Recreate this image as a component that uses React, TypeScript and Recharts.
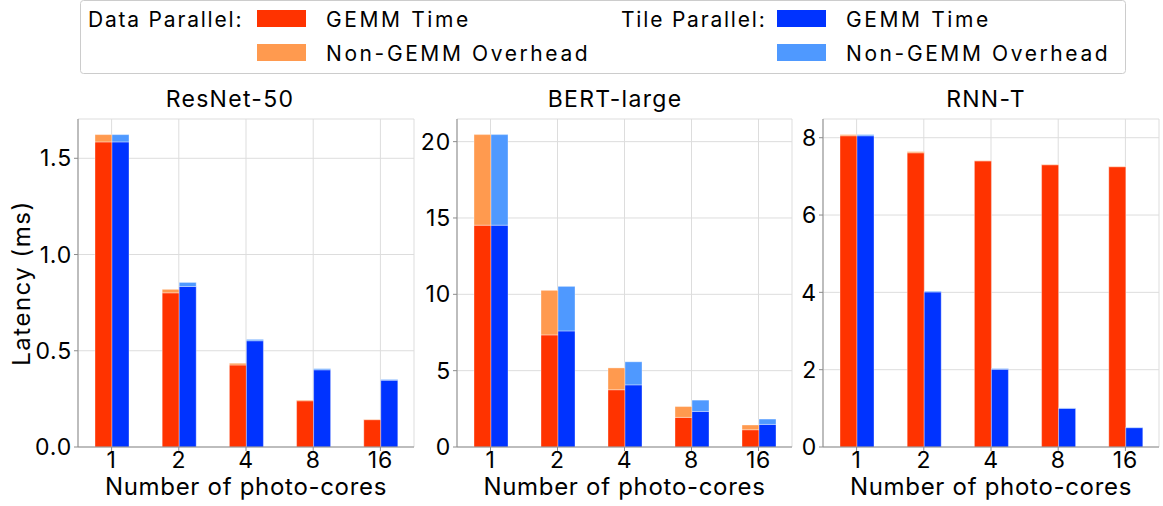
import { BarChart, Bar, XAxis, YAxis, CartesianGrid } from "recharts";

// photo-core counts along the x axis
const cores = ["1", "2", "4", "8", "16"];

// ResNet-50 latency (ms)
const resnetDpGemm = [1.585, 0.801, 0.426, 0.24, 0.142];
const resnetDpOver = [0.038, 0.018, 0.009, 0.004, 0.002];
const resnetTpGemm = [1.585, 0.834, 0.552, 0.401, 0.347];
const resnetTpOver = [0.038, 0.021, 0.007, 0.006, 0.004];
const resnetTicks = [0, 0.5, 1.0, 1.5];

// BERT-large latency (ms)
const bertDpGemm = [14.53, 7.34, 3.75, 1.94, 1.13];
const bertDpOver = [5.93, 2.92, 1.43, 0.71, 0.31];
const bertTpGemm = [14.53, 7.6, 4.07, 2.33, 1.48];
const bertTpOver = [5.93, 2.92, 1.51, 0.74, 0.35];
const bertTicks = [0, 5, 10, 15, 20];

// RNN-T latency (ms)
const rnntDpGemm = [8.05, 7.61, 7.4, 7.3, 7.25];
const rnntDpOver = [0.03, 0.03, 0.01, 0.01, 0.01];
const rnntTpGemm = [8.05, 4.01, 2.01, 1.0, 0.5];
const rnntTpOver = [0.03, 0.02, 0.02, 0.01, 0.01];
const rnntTicks = [0, 2, 4, 6, 8];

const legendLabels = ["GEMM Time", "Non-GEMM Overhead"];

const COLORS = {
  dpGemm: "#ff3300",
  dpOver: "#ff9a4f",
  tpGemm: "#0033ff",
  tpOver: "#4f99ff",
};

const FONT = "Inter, 'Open Sans', sans-serif";
const GRID = "#dddddd";
const SPINE = "#8c8c8c";

type Row = { cores: string; dpGemm: number; dpOver: number; tpGemm: number; tpOver: number };

function buildRows(dpGemm: number[], dpOver: number[], tpGemm: number[], tpOver: number[]): Row[] {
  return cores.map((c, i) => ({
    cores: c,
    dpGemm: dpGemm[i],
    dpOver: dpOver[i],
    tpGemm: tpGemm[i],
    tpOver: tpOver[i],
  }));
}

interface PanelProps {
  rows: Row[];
  ticks: number[];
  decimals: number;
  left: number;
  width: number;
  yWidth: number;
  rightPad: number;
  yLabel?: string;
}

function Panel({ rows, ticks, decimals, left, width, yWidth, rightPad, yLabel }: PanelProps) {
  // matplotlib-style 5% headroom above the tallest stack
  const peak = Math.max(...rows.map((r) => Math.max(r.dpGemm + r.dpOver, r.tpGemm + r.tpOver)));
  const domain: [number, number] = [0, peak * 1.05];
  const tickStyle = { fill: "#000", fontSize: 23, fontFamily: FONT, letterSpacing: 0.8 };
  const barEdge = { stroke: "rgba(255,255,255,0.35)", strokeWidth: 1 };

  return (
    <div style={{ position: "absolute", left, top: 0 }}>
      <BarChart
        width={width}
        height={506}
        data={rows}
        margin={{ top: 119, right: rightPad, bottom: 0, left: 0 }}
        barGap={0}
        barSize={17}
      >
        <CartesianGrid stroke={GRID} />
        <XAxis
          dataKey="cores"
          height={59}
          tickSize={4}
          tickMargin={1}
          stroke={SPINE}
          tick={tickStyle}
          label={{
            value: "Number of photo-cores",
            position: "insideBottom",
            offset: 11,
            style: { fill: "#000", fontSize: 24, fontFamily: FONT, letterSpacing: 0.7 },
          }}
        />
        {/* top and right spines */}
        <XAxis xAxisId="top" orientation="top" dataKey="cores" height={0} tick={false} tickLine={false} stroke={SPINE} />
        <YAxis
          domain={domain}
          ticks={ticks}
          width={yWidth}
          tickSize={4}
          tickMargin={2}
          stroke={SPINE}
          tick={tickStyle}
          tickFormatter={(v: number) => v.toFixed(decimals)}
          label={
            yLabel
              ? {
                  value: yLabel,
                  angle: -90,
                  position: "insideLeft",
                  offset: 21,
                  style: { textAnchor: "middle", fill: "#000", fontSize: 24, fontFamily: FONT, letterSpacing: 1.5 },
                }
              : undefined
          }
        />
        <YAxis yAxisId="right" orientation="right" width={0} domain={domain} tick={false} tickLine={false} stroke={SPINE} />
        <Bar dataKey="dpGemm" stackId="dp" fill={COLORS.dpGemm} {...barEdge} isAnimationActive={false} />
        <Bar dataKey="dpOver" stackId="dp" fill={COLORS.dpOver} {...barEdge} isAnimationActive={false} />
        <Bar dataKey="tpGemm" stackId="tp" fill={COLORS.tpGemm} {...barEdge} isAnimationActive={false} />
        <Bar dataKey="tpOver" stackId="tp" fill={COLORS.tpOver} {...barEdge} isAnimationActive={false} />
      </BarChart>
    </div>
  );
}

function Titles() {
  const titles = [
    { text: "ResNet-50", x: 230 },
    { text: "BERT-large", x: 615 },
    { text: "RNN-T", x: 986 },
  ];
  return (
    <svg width={1163} height={119} style={{ position: "absolute", left: 0, top: 0, pointerEvents: "none" }}>
      {titles.map((t) => (
        <text
          key={t.text}
          x={t.x}
          y={107}
          textAnchor="middle"
          fontSize={23}
          fontFamily={FONT}
          letterSpacing={1.3}
          fill="#000"
        >
          {t.text}
        </text>
      ))}
    </svg>
  );
}

function LegendBox() {
  const groups = [
    { name: "Data Parallel:", x: 88, swatchX: 257, textX: 326, colors: [COLORS.dpGemm, COLORS.dpOver] },
    { name: "Tile Parallel:", x: 621, swatchX: 777, textX: 846, colors: [COLORS.tpGemm, COLORS.tpOver] },
  ];
  const rowsY = [10, 44];
  const textProps = { fontSize: 21, fontFamily: FONT, fill: "#000" };
  return (
    <svg width={1163} height={80} style={{ position: "absolute", left: 0, top: 0 }}>
      <rect x={80.5} y={0.5} width={1045} height={73} rx={3} fill="#fff" stroke="#cccccc" />
      {groups.map((g) => (
        <g key={g.name}>
          <text x={g.x} y={27} letterSpacing={1.8} {...textProps}>
            {g.name}
          </text>
          {legendLabels.map((label, i) => (
            <g key={label}>
              <rect x={g.swatchX} y={rowsY[i]} width={49} height={17} fill={g.colors[i]} />
              <text x={g.textX} y={rowsY[i] + 17} letterSpacing={2.6} {...textProps}>
                {label}
              </text>
            </g>
          ))}
        </g>
      ))}
    </svg>
  );
}

export default function App() {
  const resnet = buildRows(resnetDpGemm, resnetDpOver, resnetTpGemm, resnetTpOver);
  const bert = buildRows(bertDpGemm, bertDpOver, bertTpGemm, bertTpOver);
  const rnnt = buildRows(rnntDpGemm, rnntDpOver, rnntTpGemm, rnntTpOver);

  return (
    <div
      style={{
        position: "absolute",
        left: 0,
        top: 0,
        width: 1163,
        height: 506,
        background: "#fff",
        fontFamily: FONT,
        overflow: "hidden",
      }}
    >
      <LegendBox />
      <Panel
        rows={resnet}
        ticks={resnetTicks}
        decimals={1}
        left={0}
        width={420}
        yWidth={78}
        rightPad={6}
        yLabel="Latency (ms)"
      />
      <Panel rows={bert} ticks={bertTicks} decimals={0} left={420} width={377} yWidth={37} rightPad={5} />
      <Panel rows={rnnt} ticks={rnntTicks} decimals={0} left={797} width={366} yWidth={26} rightPad={4} />
      <Titles />
    </div>
  );
}
